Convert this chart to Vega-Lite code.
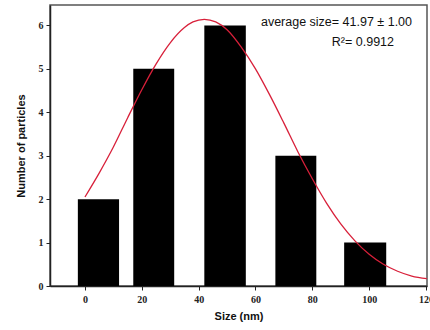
{
  "$schema": "https://vega.github.io/schema/vega-lite/v6.json",
  "autosize": "none",
  "width": 377,
  "height": 281,
  "padding": {"left": 50, "top": 5, "right": 3, "bottom": 44},
  "background": "white",
  "config": {
    "view": {"stroke": "#555", "strokeWidth": 1.5},
    "axis": {"grid": false, "domainColor": "#222", "domainWidth": 1.5, "tickColor": "#222", "labelFont": "Liberation Serif", "labelFontWeight": "bold", "labelFontSize": 10, "labelColor": "#222", "titleFont": "Liberation Sans", "titleFontWeight": "bold", "titleFontSize": 11, "titleColor": "#111"}
  },
  "datasets": {
    "bars": [
      {"x0": -2.5, "x1": 12, "count": 2},
      {"x0": 17, "x1": 31.4, "count": 5},
      {"x0": 42, "x1": 56.6, "count": 6},
      {"x0": 67, "x1": 81.4, "count": 3},
      {"x0": 91.2, "x1": 106, "count": 1}
    ],
    "fit": [
      {"size": 0, "n": 2.05},
      {"size": 5, "n": 2.6},
      {"size": 10, "n": 3.2},
      {"size": 15, "n": 3.87},
      {"size": 20, "n": 4.52},
      {"size": 25, "n": 5.11},
      {"size": 30, "n": 5.6},
      {"size": 35, "n": 5.95},
      {"size": 38, "n": 6.08},
      {"size": 42, "n": 6.14},
      {"size": 46, "n": 6.08},
      {"size": 50, "n": 5.9},
      {"size": 55, "n": 5.5},
      {"size": 60, "n": 5.0},
      {"size": 65, "n": 4.4},
      {"size": 70, "n": 3.75},
      {"size": 75, "n": 3.08},
      {"size": 80, "n": 2.47},
      {"size": 85, "n": 1.91},
      {"size": 90, "n": 1.43},
      {"size": 95, "n": 1.04},
      {"size": 100, "n": 0.73},
      {"size": 105, "n": 0.5},
      {"size": 110, "n": 0.34},
      {"size": 115, "n": 0.23},
      {"size": 120.3, "n": 0.17}
    ],
    "notes": [
      {"tx": 88.5, "ty": 6.08, "label": "average size= 41.97 ± 1.00"},
      {"tx": 97.8, "ty": 5.62, "label": "R²= 0.9912"}
    ]
  },
  "layer": [
    {
      "data": {"name": "bars"},
      "mark": {"type": "rect", "color": "black"},
      "encoding": {
        "x": {"field": "x0", "type": "quantitative", "scale": {"domain": [-12.3, 120.35], "nice": false, "zero": false},
          "axis": {"title": "Size (nm)", "values": [0, 10, 20, 30, 40, 50, 60, 70, 80, 90, 100, 110, 120],
            "labelExpr": "datum.value % 20 === 0 ? datum.label : ''",
            "labelFlush": false, "labelOverlap": false, "labelBound": false,
            "tickSize": {"condition": {"test": "datum.value % 20 === 0", "value": 4}, "value": 2.5},
            "labelPadding": 4, "titlePadding": 6}},
        "x2": {"field": "x1"},
        "y": {"field": "count", "type": "quantitative", "scale": {"domain": [0, 6.47], "nice": false},
          "axis": {"title": "Number of particles", "values": [0, 0.5, 1, 1.5, 2, 2.5, 3, 3.5, 4, 4.5, 5, 5.5, 6],
            "labelExpr": "datum.value % 1 === 0 ? datum.label : ''",
            "labelFlush": false, "labelOverlap": false,
            "tickSize": {"condition": {"test": "datum.value % 1 === 0", "value": 4}, "value": 2.5},
            "labelPadding": 3, "titlePadding": 12}},
        "y2": {"datum": 0}
      }
    },
    {
      "data": {"name": "fit"},
      "mark": {"type": "line", "color": "#d8203a", "strokeWidth": 1.3, "interpolate": "monotone"},
      "encoding": {
        "x": {"field": "size", "type": "quantitative"},
        "y": {"field": "n", "type": "quantitative"}
      }
    },
    {
      "data": {"name": "notes"},
      "mark": {"type": "text", "align": "center", "baseline": "middle", "font": "Liberation Sans", "fontSize": 12.5, "color": "#111"},
      "encoding": {
        "x": {"field": "tx", "type": "quantitative"},
        "y": {"field": "ty", "type": "quantitative"},
        "text": {"field": "label"}
      }
    }
  ]
}
